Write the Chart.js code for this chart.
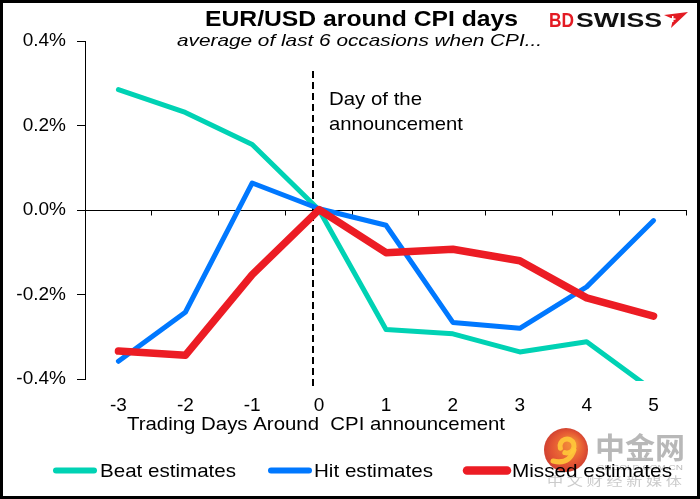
<!DOCTYPE html>
<html><head><meta charset="utf-8">
<script src="https://cdn.jsdelivr.net/npm/chart.js@4.4.0/dist/chart.umd.min.js"></script>
<style>html,body{margin:0;padding:0;background:#fff;overflow:hidden}#wrap{width:700px;height:499px;position:relative}canvas{display:block}</style>
</head><body><div id="wrap"><canvas id="c" width="700" height="499"></canvas></div>
<script>
// ---- data ----
const days = ['-3','-2','-1','0','1','2','3','4','5'];
const beat = [0.285,0.231,0.155,0.0,-0.283,-0.293,-0.336,-0.312,-0.428];
const hit = [-0.358,-0.242,0.064,0.003,-0.036,-0.266,-0.280,-0.182,-0.025];
const missed = [-0.334,-0.344,-0.153,0.001,-0.101,-0.093,-0.120,-0.208,-0.251];
const yTicks = [-0.4,-0.2,0,0.2,0.4];
const seriesNames = ['Beat estimates','Hit estimates','Missed estimates'];
const titleText = 'EUR/USD around CPI days';
const subtitleText = 'average of last 6 occasions when CPI...';
const xTitleText = 'Trading Days Around  CPI announcement';
const noteLines = ['Day of the','announcement'];

const FONT = "'Liberation Sans', Arial, sans-serif";
const TEAL = '#00D2B4', BLUE = '#0078FF', RED = '#EC1C24';

// draw text stretched to fit [left,right]
function fitText(c, s, left, right, baseline, font, color){
  c.save();
  c.font = font; c.fillStyle = color; c.textAlign = 'left'; c.textBaseline = 'alphabetic';
  const w = c.measureText(s).width;
  c.translate(left, baseline);
  c.scale((right-left)/w, 1);
  c.fillText(s, 0, 0);
  c.restore();
}

const decor = {
  id: 'decor',
  beforeDraw(chart){
    const c = chart.ctx;
    c.save();
    c.fillStyle = '#fff'; c.fillRect(0,0,chart.width,chart.height);
    // watermark
    const g = c.createRadialGradient(572,444,4,566,450,23);
    g.addColorStop(0,'#ef7a22'); g.addColorStop(0.6,'#e2461d'); g.addColorStop(1,'#c92a1a');
    c.globalAlpha = 0.9;
    c.fillStyle = g; c.beginPath(); c.arc(566,450,22,0,Math.PI*2); c.fill();
    c.strokeStyle = '#ffc93a'; c.lineWidth = 5; c.lineCap = 'round';
    c.beginPath(); c.arc(567,446,7,Math.PI*0.9,Math.PI*2.6); c.stroke();
    c.beginPath(); c.moveTo(574,450); c.quadraticCurveTo(569,465,553,461); c.stroke();
    c.globalAlpha = 1;
    fitText(c,'中金网',595,685,459,"bold 29px 'Noto Sans CJK SC'",'rgba(160,160,160,0.75)');
    fitText(c,'CNGOLD.COM.CN',597,683,470,"8px "+FONT,'rgba(170,170,170,0.8)');
    fitText(c,'中 文 财 经 新 媒 体',547,682,486,"12px 'Noto Sans CJK SC'",'rgba(190,190,190,0.8)');
    c.restore();
  },
  beforeDatasetsDraw(chart){
    const c = chart.ctx, x = chart.scales.x, y = chart.scales.y, a = chart.chartArea;
    c.save();
    // zero line with tick marks at category boundaries
    const y0 = Math.round(y.getPixelForValue(0)) + 0.5;
    c.strokeStyle = '#000'; c.lineWidth = 1;
    c.beginPath(); c.moveTo(a.left, y0); c.lineTo(a.right, y0); c.stroke();
    const n = days.length, step = (a.right - a.left)/n;
    c.beginPath();
    for (let i = 1; i <= n; i++){ const px = Math.round(a.left + i*step) - 0.5; c.moveTo(px, y0); c.lineTo(px, y0+5); }
    c.stroke();
    // dashed announcement line
    const dx = Math.round(x.getPixelForValue(3) - 0.09*step);
    c.setLineDash([7,4]); c.lineWidth = 2;
    c.beginPath(); c.moveTo(dx, a.top + 30); c.lineTo(dx, a.bottom + 8); c.stroke();
    c.restore();
  },
  afterDraw(chart){
    const c = chart.ctx;
    c.save();
    // titles
    fitText(c, titleText, 205, 518, 26, "bold 22px "+FONT, '#000');
    fitText(c, subtitleText, 177, 542, 46, "italic 17px "+FONT, '#000');
    // logo
    fitText(c, 'BD', 549, 574, 27, "bold 20px "+FONT, '#E31B23');
    fitText(c, 'SWISS', 576, 662, 27, "bold 20px "+FONT, '#111');
    c.fillStyle = '#E31B23';
    c.beginPath(); c.moveTo(664,15); c.lineTo(688,12); c.lineTo(671,28); c.lineTo(673,19); c.closePath(); c.fill();
    c.fillStyle = '#fff';
    c.fillRect(672,16,1.5,6); c.fillRect(669.5,18.3,6,1.5);
    // annotation
    fitText(c, noteLines[0], 329, 422, 105, "19px "+FONT, '#000');
    fitText(c, noteLines[1], 329, 463, 130, "19px "+FONT, '#000');
    // x axis title
    fitText(c, xTitleText, 127, 505, 430, "19px "+FONT, '#000');
    // legend
    const items = [
      {x1:53,x2:97,t1:100,t2:236},
      {x1:268,x2:312,t1:314,t2:433},
      {x1:464,x2:510,t1:512,t2:672}
    ];
    chart.data.datasets.forEach((ds,i)=>{
      const it = items[i];
      c.strokeStyle = ds.borderColor; c.lineWidth = ds.borderWidth+1; c.lineCap = 'round';
      c.beginPath(); c.moveTo(it.x1+3, 470.5); c.lineTo(it.x2-3, 470.5); c.stroke();
      fitText(c, ds.label, it.t1, it.t2, 477, "19px "+FONT, '#000');
    });
    // outer border
    c.strokeStyle = '#000'; c.lineWidth = 3;
    c.strokeRect(1.5,1.5,697,496);
    c.restore();
  }
};

new Chart(document.getElementById('c'), {
  type: 'line',
  data: {
    labels: days,
    datasets: [
      {label: seriesNames[0], data: beat, borderColor: TEAL, borderWidth: 5, order: 3},
      {label: seriesNames[1], data: hit, borderColor: BLUE, borderWidth: 5, order: 2},
      {label: seriesNames[2], data: missed, borderColor: RED, borderWidth: 7.5, order: 1}
    ]
  },
  options: {
    responsive: false, animation: false, devicePixelRatio: 1,
    layout: {padding: {top: 41, right: 13, left: 0, bottom: 0}},
    elements: {
      point: {radius: 0, hoverRadius: 0},
      line: {tension: 0, borderCapStyle: 'round', borderJoinStyle: 'round', fill: false}
    },
    datasets: {line: {clip: {left: 6, right: 6, top: 6, bottom: 2}}},
    plugins: {legend: {display: false}, title: {display: false}, tooltip: {enabled: false}},
    scales: {
      x: {
        type: 'category', offset: true,
        grid: {display: false, drawTicks: false},
        border: {display: false},
        ticks: {color: '#000', font: {family: FONT, size: 19}, padding: 15, maxRotation: 0, autoSkip: false},
        afterFit: s => { s.height = 120; }
      },
      y: {
        min: -0.4, max: 0.4,
        afterBuildTicks: s => { s.ticks = yTicks.map(v => ({value: v})); },
        grid: {drawOnChartArea: false, color: '#000', tickColor: '#000', tickLength: 8},
        border: {color: '#000', width: 1},
        ticks: {color: '#000', font: {family: FONT, size: 19}, padding: 11, callback: v => v.toFixed(1) + '%'},
        afterFit: s => { s.width = 85; }
      }
    }
  },
  plugins: [decor]
});
</script></body></html>
